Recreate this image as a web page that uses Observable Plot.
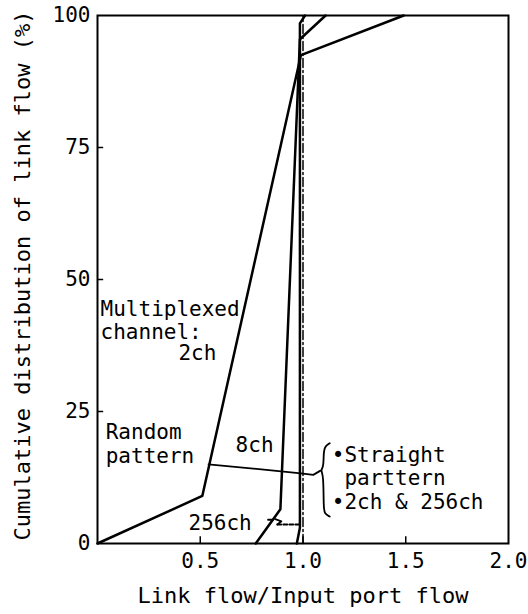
<!DOCTYPE html>
<html>
<head>
<meta charset="utf-8">
<script src="https://cdn.jsdelivr.net/npm/d3@7"></script>
<script src="https://cdn.jsdelivr.net/npm/@observablehq/plot@0.6"></script>
<style>
  html, body { margin: 0; padding: 0; background: #fff; }
  #chart svg { display: block; }
</style>
</head>
<body>
<div id="chart"></div>
<script>
// ---- data ----
const xTickValues = [0.5, 1.0, 1.5, 2.0];
const xTickLabels = ["0.5", "1.0", "1.5", "2.0"];
const yTickValues = [0, 25, 50, 75, 100];
const yTickLabels = ["0", "25", "50", "75", "100"];

// Random pattern, multiplexed channel 2ch
const ch2X = [0, 0.51, 0.99, 1.49];
const ch2Y = [0, 9, 92.5, 100];
// Random pattern, 8ch
const ch8X = [0.77, 0.89, 0.985, 1.11];
const ch8Y = [0, 6.5, 95.5, 100];
// Random pattern, 256ch
const ch256X = [0.97, 0.985, 0.985, 1.01];
const ch256Y = [0, 3, 98.5, 100];
// Straight pattern (2ch & 256ch)
const straightX = [1.0, 1.0];
const straightY = [0, 100];

const xTitle = "Link flow/Input port flow";
const yTitle = "Cumulative distribution of link flow (%)";

const toPts = (xs, ys) => xs.map((x, i) => ({x, y: ys[i]}));

const annotations = [
  {x: 0.015, y: 44.3, text: "Multiplexed"},
  {x: 0.015, y: 40.1, text: "channel:"},
  {x: 0.394, y: 36.0, text: "2ch"},
  {x: 0.04, y: 21.0, text: "Random"},
  {x: 0.04, y: 16.6, text: "pattern"},
  {x: 0.672, y: 18.6, text: "8ch"},
  {x: 0.443, y: 3.9, text: "256ch"},
  {x: 1.14, y: 16.8, text: "•Straight"},
  {x: 1.14, y: 12.4, text: " parttern"},
  {x: 1.14, y: 7.9, text: "•2ch & 256ch"}
];

const patternLeader = toPts([0.54, 0.99, 1.05, 1.085], [15.0, 13.3, 13.0, 13.8]);
const bracket = toPts([1.13, 1.105, 1.1, 1.1, 1.085, 1.1, 1.1, 1.105, 1.13],
                      [19.0, 18.4, 16.8, 14.5, 13.8, 13.1, 6.8, 5.6, 5.1]);
const leader256a = toPts([0.83, 0.855], [4.5, 4.5]);
const leader256b = toPts([0.865, 0.895, 0.875], [4.6, 4.2, 3.6]);
const leader256c = toPts([0.875, 0.98], [3.6, 3.6]);

const chart = Plot.plot({
  width: 528,
  height: 614,
  marginLeft: 97,
  marginRight: 20,
  marginTop: 15,
  marginBottom: 71,
  style: {fontFamily: "'DejaVu Sans Mono', monospace", fontSize: "21px", background: "#fff", color: "#000"},
  x: {domain: [0, 2]},
  y: {domain: [0, 100]},
  marks: [
    Plot.frame({stroke: "#000", strokeWidth: 2}),
    Plot.axisX({ticks: xTickValues, tickFormat: (d, i) => xTickLabels[i], tickSize: 0, tickPadding: 10, label: null}),
    Plot.axisY({ticks: yTickValues, tickFormat: (d, i) => yTickLabels[i], tickSize: 0, tickPadding: 7, label: null}),
    Plot.ruleY(yTickValues.slice(1, -1), {x1: 0, x2: 0.03, stroke: "#000", strokeWidth: 1.5}),
    Plot.ruleX(xTickValues.slice(0, -1), {y1: 0, y2: 1.3, stroke: "#000", strokeWidth: 1.5}),
    Plot.line(toPts(straightX, straightY), {x: "x", y: "y", stroke: "#000", strokeWidth: 1.5, strokeDasharray: "9,3,2,3"}),
    Plot.line(toPts(ch2X, ch2Y), {x: "x", y: "y", stroke: "#000", strokeWidth: 2.5}),
    Plot.line(toPts(ch8X, ch8Y), {x: "x", y: "y", stroke: "#000", strokeWidth: 2.5}),
    Plot.line(toPts(ch256X, ch256Y), {x: "x", y: "y", stroke: "#000", strokeWidth: 2.5}),
    Plot.line(patternLeader, {x: "x", y: "y", stroke: "#000", strokeWidth: 1.8}),
    Plot.line(bracket, {x: "x", y: "y", stroke: "#000", strokeWidth: 1.8, curve: "basis"}),
    Plot.line(leader256a, {x: "x", y: "y", stroke: "#000", strokeWidth: 1.8}),
    Plot.line(leader256b, {x: "x", y: "y", stroke: "#000", strokeWidth: 1.8}),
    Plot.line(leader256c, {x: "x", y: "y", stroke: "#000", strokeWidth: 1.8, strokeDasharray: "4,2"}),
    Plot.text(annotations, {x: "x", y: "y", text: "text", textAnchor: "start", lineAnchor: "middle", fontSize: 21, fill: "#000"}),
    Plot.text([xTitle], {frameAnchor: "bottom", textAnchor: "middle", dy: 59, fontSize: 22, fill: "#000"}),
    Plot.text([yTitle], {frameAnchor: "left", textAnchor: "middle", dx: -75, dy: -4, rotate: -90, fontSize: 22, fill: "#000"})
  ]
});
document.getElementById("chart").appendChild(chart);
</script>
</body>
</html>
